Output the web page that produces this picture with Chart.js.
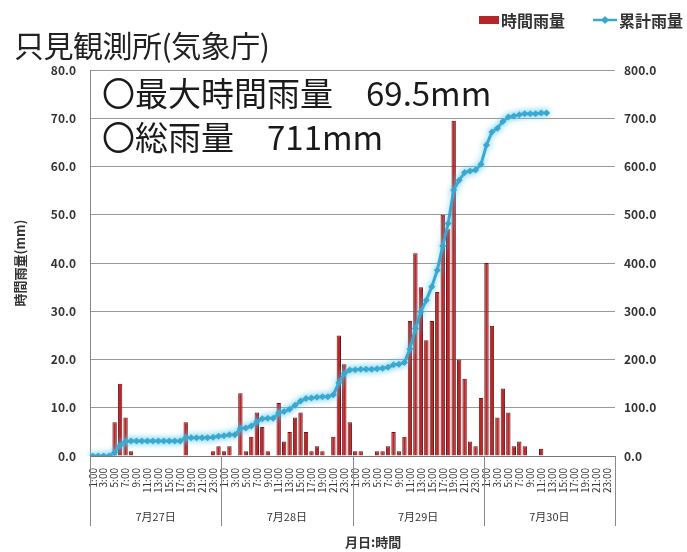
<!DOCTYPE html>
<html>
<head>
<meta charset="utf-8">
<script src="https://cdn.jsdelivr.net/npm/chart.js@4.4.0/dist/chart.umd.min.js"></script>
<style>
  body { margin: 0; background: #fff; font-family: "Noto Sans CJK JP", sans-serif; }
  #wrap { position: relative; width: 687px; height: 552px; }
  #wrap canvas { position: absolute; left: 0; top: 0; }
  .t { position: absolute; white-space: nowrap; color: #222; line-height: 1; }
  #title { left: 14px; top: 29px; font-size: 30px; letter-spacing: -0.5px; }
  .note { left: 102px; font-size: 33px; color: #1a1a1a; }
  #legend { right: 4px; top: 12px; font-size: 16px; font-weight: bold; color: #333; display: flex; align-items: center; }
  #legend .box { display: inline-block; width: 20px; height: 8px; background: #b3262a; margin-right: 2px; }
  #xtitle { top: 535px; left: 345px; font-size: 13px; font-weight: bold; color: #333; }
</style>
</head>
<body>
<div id="wrap">
  <canvas id="c" width="687" height="552"></canvas>
  <div class="t" id="title">只見観測所(気象庁)</div>
  <div class="t note" style="top:76px">〇最大時間雨量　69.5mm</div>
  <div class="t note" style="top:120px">〇総雨量　711mm</div>
  <div class="t" id="legend">
    <span class="box"></span><span>時間雨量</span>
    <svg width="24" height="10" style="margin-left:28px;margin-right:2px"><line x1="0" y1="5" x2="24" y2="5" stroke="#3aa6cf" stroke-width="2.5"/><polygon points="12,1 16,5 12,9 8,5" fill="#3aa6cf"/></svg><span>累計雨量</span>
  </div>
  <div class="t" id="xtitle">月日:時間</div>
</div>
<script>
// hourly rainfall (mm), 7/27 1:00 .. 7/30 24:00
const days = ['7月27日', '7月28日', '7月29日', '7月30日'];
const rain27 = [0, 0, 0, 0, 7, 15, 8, 1, 0, 0, 0, 0, 0, 0, 0, 0, 0, 7, 0, 0, 0, 0, 1, 2];
const rain28 = [1, 2, 0, 13, 1, 4, 9, 6, 1, 0, 11, 3, 5, 8, 9, 5, 1, 2, 1, 0, 4, 25, 19, 7];
const rain29 = [1, 1, 0, 0, 1, 1, 2, 5, 1, 4, 28, 42, 35, 24, 28, 34, 50, 47, 69.5, 20, 16, 3, 2, 12];
const rain30 = [40, 27, 8, 14, 9, 2, 3, 2, 0, 0, 1.5, 0, 0, 0, 0, 0, 0, 0, 0, 0, 0, 0, 0, 0];

// cumulative rainfall (mm), line stops at 7/30 12:00
const total27 = [0, 0, 0, 0, 7, 22, 30, 31, 31, 31, 31, 31, 31, 31, 31, 31, 31, 38, 38, 38, 38, 38, 39, 41];
const total28 = [42, 44, 44, 57, 58, 62, 71, 77, 78, 78, 89, 92, 97, 105, 114, 119, 120, 122, 123, 123, 127, 152, 171, 178];
const total29 = [179, 180, 180, 180, 181, 182, 184, 189, 190, 194, 222, 264, 299, 323, 351, 385, 435, 482, 551.5, 571.5, 587.5, 590.5, 592.5, 604.5];
const total30 = [644.5, 671.5, 679.5, 693.5, 702.5, 704.5, 707.5, 709.5, 709.5, 709.5, 711, 711,
  null, null, null, null, null, null, null, null, null, null, null, null];

const hours = [];
days.forEach(d => { for (let h = 1; h <= 24; h++) hours.push(h + ':00'); });
const hourly = [...rain27, ...rain28, ...rain29, ...rain30];
const cumulative = [...total27, ...total28, ...total29, ...total30];

const axisFont = { family: '"Noto Sans CJK JP", sans-serif', size: 12, weight: 'bold' };

// vertical separators between the days, under the axis
const daySeparators = {
  id: 'daySeparators',
  afterDraw(chart) {
    const { ctx, chartArea, scales: { x, x2 } } = chart;
    const half = (x.getPixelForValue(1) - x.getPixelForValue(0)) / 2;
    ctx.save();
    ctx.strokeStyle = '#888';
    ctx.lineWidth = 1;
    for (let k = 0; k <= days.length; k++) {
      const px = Math.round(k < days.length ? x.getPixelForValue(k * 24) - half : x.getPixelForValue(hours.length - 1) + half) + 0.5;
      ctx.beginPath();
      ctx.moveTo(px, chartArea.bottom);
      ctx.lineTo(px, x2.bottom - 4);
      ctx.stroke();
    }
    ctx.restore();
  }
};

// soft glow on the cumulative line
const lineGlow = {
  id: 'lineGlow',
  beforeDatasetDraw(chart, args) {
    if (args.index !== 1) return;
    chart.ctx.save();
    chart.ctx.shadowColor = 'rgba(90,200,235,0.8)';
    chart.ctx.shadowBlur = 6;
  },
  afterDatasetDraw(chart, args) {
    if (args.index === 1) chart.ctx.restore();
  }
};

new Chart(document.getElementById('c'), {
  data: {
    labels: hours,
    datasets: [
      {
        type: 'bar',
        label: '時間雨量',
        data: hourly,
        yAxisID: 'y',
        backgroundColor: '#b8282b',
        borderColor: '#6e1414',
        borderWidth: 1,
        barPercentage: 0.8,
        categoryPercentage: 1,
        order: 2
      },
      {
        type: 'line',
        label: '累計雨量',
        data: cumulative,
        yAxisID: 'y1',
        borderColor: '#3aa6cf',
        backgroundColor: '#3aa6cf',
        borderWidth: 3,
        pointStyle: 'rectRot',
        pointRadius: 3.5,
        pointBorderWidth: 0,
        tension: 0,
        order: 1
      }
    ]
  },
  options: {
    responsive: false,
    animation: false,
    layout: { padding: { top: 70, left: 0, right: 0, bottom: 22 } },
    plugins: {
      legend: { display: false },
      tooltip: { enabled: false }
    },
    scales: {
      x: {
        grid: { display: false },
        border: { display: true, color: '#777' },
        ticks: {
          autoSkip: false,
          maxRotation: 90,
          minRotation: 90,
          padding: 4,
          color: '#333',
          font: { family: '"Noto Sans CJK JP", sans-serif', size: 10 },
          callback: (v, i) => (i % 2 === 0 ? hours[i] : '')
        },
        afterFit: s => { s.height = 46; }
      },
      x2: {
        type: 'category',
        position: 'bottom',
        weight: 1,
        labels: days,
        offset: true,
        grid: { display: false },
        border: { display: false },
        ticks: { padding: 0, color: '#333', font: { family: '"Noto Sans CJK JP", sans-serif', size: 11 } },
        afterFit: s => { s.height = 28; }
      },
      y: {
        position: 'left',
        min: 0,
        max: 80,
        ticks: { stepSize: 10, padding: 14, color: '#333', font: axisFont, callback: v => v.toFixed(1) },
        grid: { color: '#9a9a9a', drawTicks: false },
        border: { display: true, color: '#888' },
        title: {
          display: true,
          text: '時間雨量(mm)',
          color: '#333',
          font: { family: '"Noto Sans CJK JP", sans-serif', size: 13, weight: 'bold' },
          padding: { top: 12, bottom: 0 }
        },
        afterFit: s => { s.width = 90; }
      },
      y1: {
        position: 'right',
        min: 0,
        max: 800,
        ticks: { stepSize: 100, padding: 9, color: '#333', font: axisFont, callback: v => v.toFixed(1) },
        grid: { display: false, drawTicks: false },
        border: { display: false },
        afterFit: s => { s.width = 72; }
      }
    }
  },
  plugins: [daySeparators, lineGlow]
});
</script>
</body>
</html>
